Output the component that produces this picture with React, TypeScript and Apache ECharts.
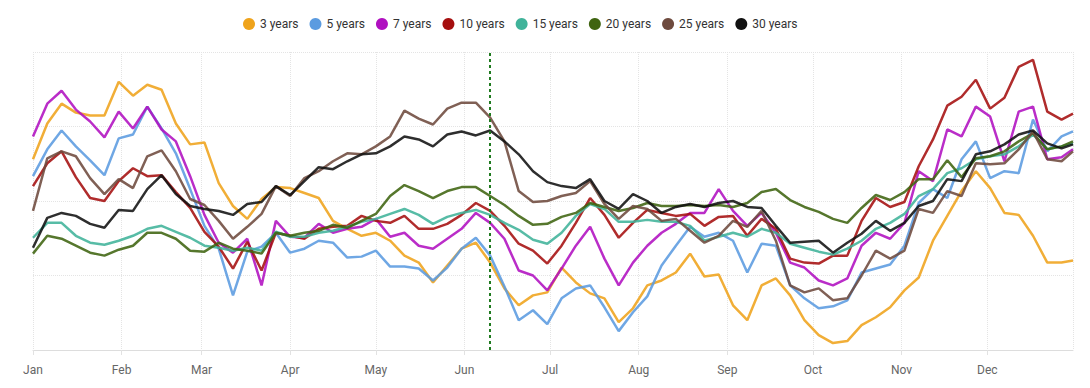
import React, { useEffect, useRef } from "react";
import * as echarts from "echarts";

const dates = [
  "01-01","01-06","01-11","01-16","01-21","01-26","01-31","02-05","02-10","02-15","02-20","02-25",
  "03-02","03-07","03-12","03-17","03-22","03-27","04-01","04-06","04-11","04-16","04-21","04-26",
  "05-01","05-06","05-11","05-16","05-21","05-26","05-31","06-05","06-10","06-15","06-20","06-25",
  "06-30","07-05","07-10","07-15","07-20","07-25","07-30","08-04","08-09","08-14","08-19","08-24",
  "08-29","09-03","09-08","09-13","09-18","09-23","09-28","10-03","10-08","10-13","10-18","10-23",
  "10-28","11-02","11-07","11-12","11-17","11-22","11-27","12-02","12-07","12-12","12-17","12-22",
  "12-27","12-31",
];

const monthLabels = ["Jan","Feb","Mar","Apr","May","Jun","Jul","Aug","Sep","Oct","Nov","Dec"];

const y3 = [192,228,248,239,236,236,270,256,267,262,228,207,209,168,145,132,152,164,163,158,153,130,122,115,118,110,95,88,68,85,102,108,88,62,45,55,58,83,68,57,52,28,42,65,70,78,97,74,76,45,30,65,72,55,30,15,7,9,25,33,43,60,73,110,135,160,180,163,138,136,115,88,88,90];
const y5 = [175,202,221,205,191,176,213,217,245,223,198,162,125,102,55,99,104,118,98,102,110,108,93,94,100,84,84,82,70,83,102,113,95,64,30,40,26,52,62,65,43,19,38,54,85,105,124,114,118,110,78,107,105,65,52,42,44,50,78,82,86,105,148,162,153,192,210,173,180,178,232,200,215,220];
const y7 = [215,248,261,242,230,214,240,223,245,222,210,175,136,108,98,112,65,130,114,113,127,118,122,124,132,114,118,105,102,112,122,138,128,112,80,75,60,82,105,124,92,65,88,105,118,127,138,138,162,140,125,138,118,88,83,70,65,72,105,118,112,128,180,170,222,215,245,235,190,240,245,192,194,202];
const y10 = [165,188,200,174,153,150,170,183,175,176,159,143,119,104,82,109,80,118,115,112,122,124,125,135,130,128,135,122,122,127,136,148,140,125,107,100,87,105,128,153,136,113,128,141,138,135,137,125,134,135,115,132,122,92,88,87,95,95,130,153,144,149,185,212,246,255,272,243,254,285,292,240,232,238];
const y15 = [113,128,128,115,108,106,110,115,122,125,119,113,105,103,100,103,100,119,114,114,118,120,124,129,132,137,142,136,127,134,138,141,136,128,121,111,107,118,135,147,142,129,129,131,129,129,125,110,114,118,114,122,118,107,103,99,96,102,110,122,128,137,155,162,178,183,192,195,197,205,217,202,205,208];
const y20 = [97,115,112,105,98,95,101,105,118,118,112,100,99,108,102,100,97,118,115,118,120,126,123,130,137,155,166,160,153,160,164,164,155,146,135,126,127,134,138,148,144,140,143,148,145,145,146,145,146,144,148,159,162,151,144,139,132,128,143,156,151,159,172,172,191,174,193,195,200,210,218,202,205,210];
const y25 = [140,193,200,195,173,157,172,163,195,201,180,152,146,130,112,124,137,165,155,173,180,190,198,197,205,215,241,233,227,243,249,249,234,210,160,149,150,155,158,170,147,132,145,142,130,132,120,108,115,130,124,140,110,65,58,62,50,52,75,100,92,100,142,138,160,155,188,187,188,202,220,192,190,200];
const y30 = [103,133,138,135,127,123,141,140,162,176,157,145,142,140,136,147,149,165,156,170,184,182,190,197,198,205,215,212,205,217,220,216,221,210,197,180,169,165,163,172,150,142,157,150,138,144,147,144,148,150,144,143,125,108,109,110,98,108,117,130,120,128,145,150,172,170,197,200,207,217,221,208,203,207];

const seriesNames = ["3 years","5 years","7 years","10 years","15 years","20 years","25 years","30 years"];
const seriesValues = [y3, y5, y7, y10, y15, y20, y25, y30];
const seriesColors = ["#EFA31B","#5B9BE0","#B010C0","#A50F0F","#40B39A","#3F6410","#6E4A3E","#111111"];

const eventDate = "2023-06-10";
const year = "2023";

export default function App() {
  const ref = useRef<HTMLDivElement>(null);

  useEffect(() => {
    if (!ref.current) return;
    const chart = echarts.init(ref.current, undefined, { renderer: "svg" });
    const font = "Roboto, Arial, sans-serif";
    const DAY = 24 * 3600 * 1000;

    const series: any[] = seriesNames.map((name, k) => ({
      name,
      type: "line",
      showSymbol: false,
      symbol: "none",
      smooth: false,
      color: seriesColors[k],
      lineStyle: { width: 2.5, color: seriesColors[k], opacity: 0.88 },
      data: dates.map((d, i) => [`${year}-${d}`, seriesValues[k][i]]),
      z: 2 + k,
    }));

    series[0].markLine = {
      silent: true,
      symbol: ["none", "none"],
      label: { show: false },
      lineStyle: { color: "#1f7a1f", type: [3, 3], width: 2, opacity: 1 },
      data: [{ xAxis: eventDate }],
      z: 20,
    };

    chart.setOption({
      animation: false,
      textStyle: { fontFamily: font },
      legend: {
        top: 13,
        left: 238,
        icon: "circle",
        itemWidth: 12,
        itemHeight: 12,
        itemGap: 11,
        textStyle: { fontSize: 12, color: "#333", fontFamily: font },
        data: seriesNames,
      },
      grid: { left: 33, right: 17, top: 52, bottom: 38, containLabel: false },
      xAxis: {
        type: "time",
        min: `${year}-01-01`,
        max: `${year}-12-31`,
        splitNumber: 12,
        minInterval: 28 * DAY,
        maxInterval: 31 * DAY,
        axisLine: { show: true, lineStyle: { color: "#dddddd", width: 1 } },
        axisTick: { show: true, length: 5, lineStyle: { color: "#e2e2e2" } },
        axisLabel: {
          color: "#666",
          fontSize: 12,
          margin: 14,
          fontFamily: font,
          formatter: (v: number) => monthLabels[new Date(v).getMonth()],
        },
        splitLine: { show: true, lineStyle: { color: "#e4e4e4", type: "dotted", width: 1 } },
      },
      yAxis: {
        type: "value",
        min: 0,
        max: 300,
        interval: 75,
        axisLabel: { show: false },
        axisLine: { show: false },
        axisTick: { show: false },
        splitLine: { show: true, lineStyle: { color: "#e4e4e4", type: "dotted", width: 1 } },
      },
      series,
    });

    return () => chart.dispose();
  }, []);

  return (
    <div
      ref={ref}
      style={{ position: "fixed", left: 0, top: 0, width: 1090, height: 388, background: "#fff" }}
    />
  );
}
